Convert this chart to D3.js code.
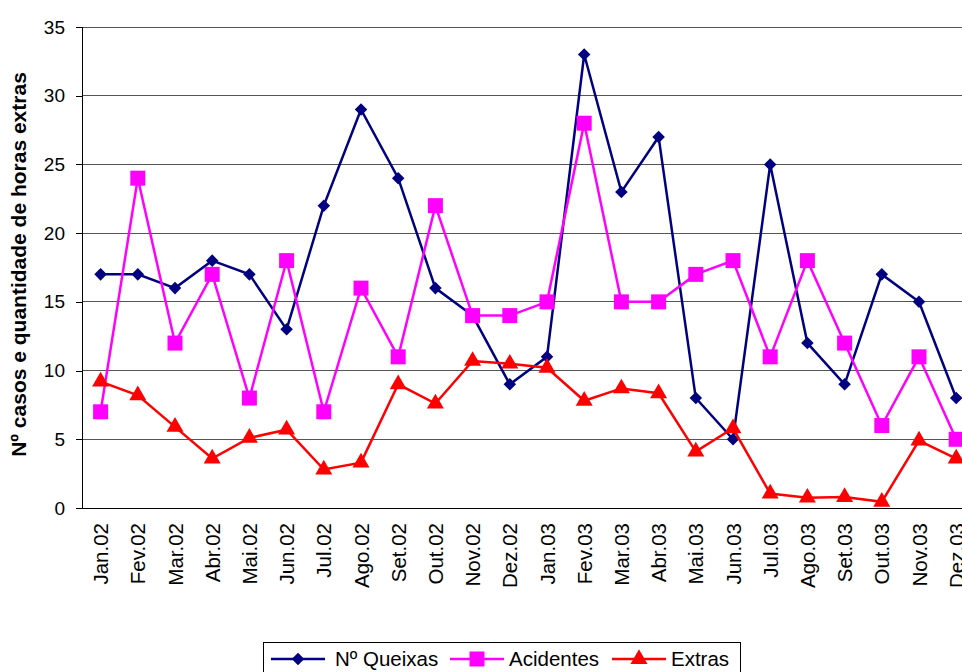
<!DOCTYPE html>
<html>
<head>
<meta charset="utf-8">
<script src="https://cdn.jsdelivr.net/npm/d3@7"></script>
<style>
  html, body { margin: 0; padding: 0; background: #fff; overflow: hidden; }
  svg { display: block; font-family: Arial, "Liberation Sans", sans-serif; }
</style>
</head>
<body>
<svg id="chart" width="962" height="672"></svg>
<script>
// Monthly series, Jan 2002 – Dec 2003
const months = ["Jan.02","Fev.02","Mar.02","Abr.02","Mai.02","Jun.02","Jul.02","Ago.02","Set.02","Out.02","Nov.02","Dez.02",
                "Jan.03","Fev.03","Mar.03","Abr.03","Mai.03","Jun.03","Jul.03","Ago.03","Set.03","Out.03","Nov.03","Dez.03"];
const queixas   = [17,17,16,18,17,13,22,29,24,16,14,9,11,33,23,27,8,5,25,12,9,17,15,8];
const acidentes = [7,24,12,17,8,18,7,16,11,22,14,14,15,28,15,15,17,18,11,18,12,6,11,5];
const extras    = [9.2,8.2,5.9,3.6,5.1,5.7,2.8,3.3,9.0,7.6,10.7,10.5,10.2,7.8,8.7,8.35,4.1,5.8,1.05,0.75,0.8,0.45,4.9,3.6];
const yTicks    = [0,5,10,15,20,25,30,35];

const svg = d3.select("#chart");
const plotLeft = 82, plotTop = 27, plotBottom = 508, step = 37.2;
const FONT = "Arial, 'Liberation Sans', sans-serif";

const x = d3.scaleBand().domain(months).range([plotLeft, plotLeft + step * months.length]).padding(0);
const y = d3.scaleLinear().domain([0, 35]).range([plotBottom, plotTop]);
const cx = d => x(d) + x.bandwidth() / 2;

// horizontal gridlines
svg.append("g").selectAll("line").data(yTicks.filter(t => t > 0)).join("line")
  .attr("x1", plotLeft).attr("x2", 962)
  .attr("y1", d => y(d)).attr("y2", d => y(d))
  .attr("stroke", "#555").attr("stroke-width", 1).attr("shape-rendering", "crispEdges");

// y axis
const yAxis = svg.append("g").attr("transform", `translate(${plotLeft},0)`)
  .call(d3.axisLeft(y).tickValues(yTicks).tickSize(6).tickPadding(11).tickFormat(d3.format("d")));
yAxis.select(".domain").attr("stroke", "#000").attr("shape-rendering", "crispEdges");
yAxis.selectAll(".tick line").attr("stroke", "#000").attr("shape-rendering", "crispEdges");
yAxis.selectAll("text").attr("font-size", 19).attr("fill", "#000").attr("font-family", FONT);

// x axis baseline
svg.append("line").attr("x1", plotLeft - 6).attr("x2", 962).attr("y1", plotBottom).attr("y2", plotBottom)
  .attr("stroke", "#000").attr("shape-rendering", "crispEdges");

// x labels, rotated
svg.append("g").selectAll("text").data(months).join("text")
  .attr("transform", d => `translate(${cx(d) + 7.5},${plotBottom + 15}) rotate(-90)`)
  .attr("text-anchor", "end")
  .attr("font-size", 20.5).attr("fill", "#000")
  .text(d => d);

// y title
svg.append("text")
  .attr("transform", `translate(26,264.5) rotate(-90)`)
  .attr("text-anchor", "middle")
  .attr("font-size", 21).attr("font-weight", "bold")
  .text("Nº casos e quantidade de horas extras");

const series = [
  { name: "Nº Queixas", values: queixas, color: "#000080", shape: d3.symbolDiamond2, size: 100 },
  { name: "Acidentes", values: acidentes, color: "#ff00ff", shape: d3.symbolSquare, size: 225 },
  { name: "Extras", values: extras, color: "#ff0000", shape: d3.symbolTriangle, size: 125 }
];

const line = d3.line().x((d, i) => cx(months[i])).y(d => y(d));

series.forEach(s => {
  const g = svg.append("g");
  g.append("path").datum(s.values).attr("d", line)
    .attr("fill", "none").attr("stroke", s.color).attr("stroke-width", 2.5);
  g.selectAll("path.pt").data(s.values).join("path").attr("class", "pt")
    .attr("transform", (d, i) => `translate(${cx(months[i])},${y(d)})`)
    .attr("d", d3.symbol().type(s.shape).size(s.size))
    .attr("fill", s.color);
});

// legend
const lg = svg.append("g");
lg.append("rect").attr("x", 263.5).attr("y", 642.5).attr("width", 477).attr("height", 40)
  .attr("fill", "#fff").attr("stroke", "#000").attr("stroke-width", 1);
const legendPos = [ {x0: 271, tx: 335}, {x0: 450, tx: 509}, {x0: 612, tx: 671} ];
series.forEach((s, i) => {
  const p = legendPos[i];
  lg.append("line").attr("x1", p.x0).attr("x2", p.x0 + 54).attr("y1", 659).attr("y2", 659)
    .attr("stroke", s.color).attr("stroke-width", 2.5);
  lg.append("path").attr("transform", `translate(${p.x0 + 27},659)`)
    .attr("d", d3.symbol().type(s.shape).size(s.size)).attr("fill", s.color);
  lg.append("text").attr("x", p.tx).attr("y", 666).attr("font-size", 20.5).text(s.name);
});
</script>
</body>
</html>
